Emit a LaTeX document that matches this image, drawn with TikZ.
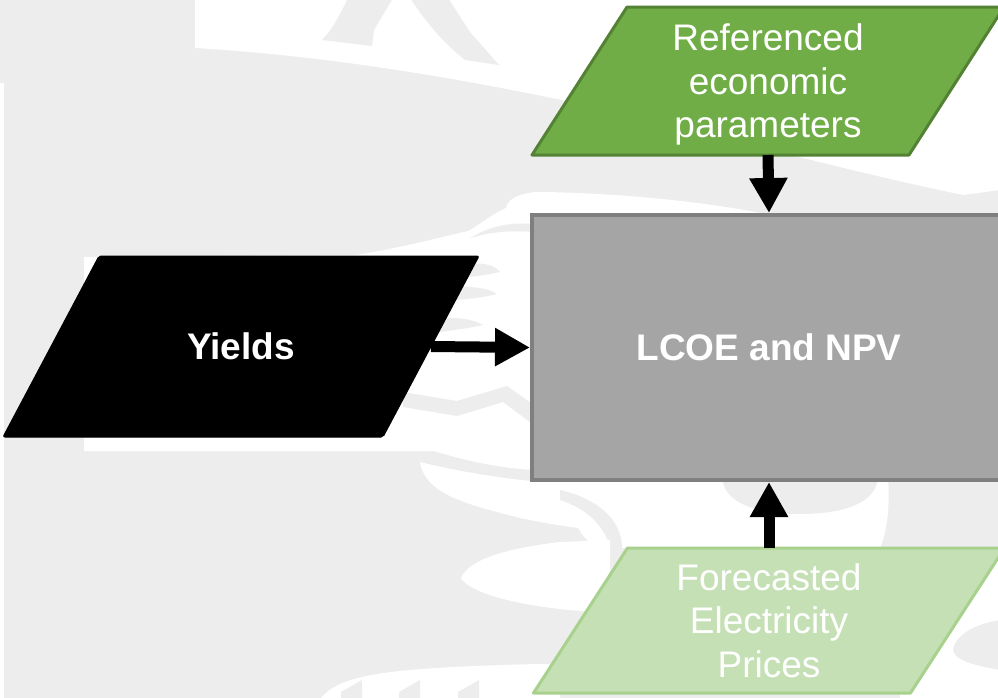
\documentclass[tikz,border=0pt]{standalone}
\usepackage{fontspec}
\setmainfont{Liberation Sans}
\usetikzlibrary{arrows.meta,calc}
\definecolor{bggray}{HTML}{EDEDED}
\definecolor{refgreen}{HTML}{70AD47}
\definecolor{refborder}{HTML}{548235}
\definecolor{fcgreen}{HTML}{C5E0B4}
\definecolor{fcborder}{HTML}{A9D18E}
\definecolor{boxgray}{HTML}{A5A5A5}
\definecolor{boxborder}{HTML}{7F7F7F}
\pgfdeclarelayer{wm}
\pgfdeclarelayer{shapes}
\pgfsetlayers{wm,shapes,main}
\tikzset{
  txt/.style={font=\fontsize{37}{43.5}\selectfont, text=white, align=center},
  holder/.style={inner sep=0pt, outer sep=0pt},
  refshape/.style={fill=refgreen, draw=refborder, line width=3pt, line join=round},
  fcshape/.style={fill=fcgreen, draw=fcborder, line width=3pt, line join=round},
  yldshape/.style={fill=black, draw=black, line width=1pt, rounded corners=2pt},
  boxshape/.style={fill=boxgray, draw=boxborder, line width=4pt, outer sep=2pt},
  blockarrow/.style={line width=11pt, -{Triangle[length=35pt,width=36pt]}},
  wmfill/.style={fill=bggray},
}
\begin{document}
\begin{tikzpicture}[x=1pt,y=-1pt]
\useasboundingbox (0,0) rectangle (998,697);
\clip (0,0) rectangle (998,697);

% ---------- watermark background ----------
\begin{pgfonlayer}{wm}
\fill[wmfill] (-2,-2) rectangle (1000,699);
% top white area
\fill[white] (195,-2) -- (195,48) .. controls (330,56) and (460,78) .. (600,108)
   .. controls (700,130) and (820,165) .. (963,195) -- (1000,190) -- (1000,-2) -- cycle;
\fill[wmfill] (348,-2) -- (393,-2) -- (374,30) -- (372,46) -- (322,40)
   .. controls (332,30) and (340,15) .. (348,-2) -- cycle;
\fill[wmfill] (410,-2) -- (448,-2) -- (470,32) -- (499,65) -- (465,60)
   .. controls (440,40) and (425,20) .. (410,-2) -- cycle;
% left white strip
\fill[white] (-2,83) rectangle (4,699);
% white area around Yields
\fill[white] (84,257) -- (84,451) -- (434,451) .. controls (470,462) and (500,468) .. (534,470)
   -- (534,215) -- (770,215) .. controls (700,200) and (600,192) .. (534,192)
   .. controls (515,195) and (508,200) .. (506,208) .. controls (490,215) and (480,225) .. (468,231)
   .. controls (430,240) and (390,250) .. (355,255) -- cycle;
\fill[wmfill] (470,238) .. controls (490,226) and (510,222) .. (534,224) -- (534,232)
   .. controls (510,230) and (490,232) .. (470,238) -- cycle;
\fill[wmfill] (468,264) .. controls (485,262) and (495,266) .. (500,272)
   .. controls (490,274) and (480,276) .. (468,277) -- cycle;
\fill[wmfill] (455,287) .. controls (475,286) and (490,289) .. (497,294)
   .. controls (485,297) and (470,299) .. (455,300) -- cycle;
\fill[wmfill] (440,318) .. controls (460,317) and (475,320) .. (483,325)
   .. controls (470,328) and (455,330) .. (440,332) -- cycle;
\fill[wmfill] (403,392) -- (457,401) -- (507,386) -- (534,405) -- (534,425)
   -- (503,402) -- (457,416) -- (403,407) -- cycle;
% white swirl left of the box bottom
\fill[white] (420,462) .. controls (460,472) and (500,478) .. (540,482) -- (560,482)
   .. controls (580,500) and (595,515) .. (600,530) .. controls (570,528) and (540,522) .. (520,518)
   .. controls (470,505) and (425,495) .. (420,462) -- cycle;
% white area under the box
\fill[white] (540,478) -- (888,478) .. controls (890,500) and (888,530) .. (880,548)
   -- (600,548) .. controls (560,530) and (590,500) .. (540,478) -- cycle;
\fill[wmfill] (560,490) .. controls (595,498) and (622,518) .. (622,548) -- (610,548)
   .. controls (605,525) and (585,508) .. (560,500) -- cycle;
\fill[wmfill] (722,478) .. controls (725,505) and (760,514) .. (800,514)
   .. controls (840,514) and (875,505) .. (878,478) -- cycle;
% white lens lower left
\fill[white] (461,578) .. controls (470,558) and (510,548) .. (560,542) -- (610,540)
   -- (610,612) .. controls (560,612) and (475,600) .. (461,578) -- cycle;
% bottom white
\fill[white] (320,699) .. controls (340,675) and (380,668) .. (537,664) -- (560,664)
   -- (560,699) -- cycle;
\fill[wmfill] (341,699) -- (341,692) -- (362,680) -- (362,699) -- cycle;
\fill[wmfill] (399,699) -- (399,692) -- (420,680) -- (420,699) -- cycle;
\fill[wmfill] (458,699) -- (458,692) -- (479,680) -- (479,699) -- cycle;
% right of the lower parallelogram
\fill[white] (900,550) rectangle (1000,699);
\fill[wmfill] (1000,620) .. controls (975,624) and (955,635) .. (953,650)
   .. controls (955,662) and (980,666) .. (1000,670) -- cycle;
\end{pgfonlayer}

% ---------- nodes ----------
\node[holder, txt, text depth=0pt, minimum width=472pt, minimum height=148pt] (ref) at (768,81)
  {Referenced\\economic\\parameters};
\node[holder, txt, minimum width=476pt, minimum height=181pt] (yld) at (241,346.5)
  {\bfseries Yields};
\node[boxshape, txt, minimum width=474pt, minimum height=265pt, inner sep=0pt] (box) at (769,347.5)
  {\bfseries LCOE and NPV};
\node[holder, txt, text depth=0pt, minimum width=471pt, minimum height=145pt] (fcp) at (769,620.5)
  {Forecasted\\Electricity\\Prices};

\begin{pgfonlayer}{shapes}
\filldraw[refshape] (ref.south west) -- ([xshift=-95pt]ref.south east) -- (ref.north east)
   -- ([xshift=95pt]ref.north west) -- cycle;
\filldraw[yldshape] (yld.south west) -- ([xshift=-96pt]yld.south east) -- (yld.north east)
   -- ([xshift=96pt]yld.north west) -- cycle;
\filldraw[fcshape] (fcp.south west) -- ([xshift=-94pt]fcp.south east) -- (fcp.north east)
   -- ([xshift=94pt]fcp.north west) -- cycle;
\end{pgfonlayer}

\coordinate (yldE) at ($(yld.north east)!0.5!([xshift=-96pt]yld.south east)$);

% ---------- connectors ----------
\draw[blockarrow] (ref.south) -- (box.north);
\draw[blockarrow] (yldE) -- (box.west);
\draw[blockarrow] (fcp.north) -- (box.south);
\end{tikzpicture}
\end{document}
